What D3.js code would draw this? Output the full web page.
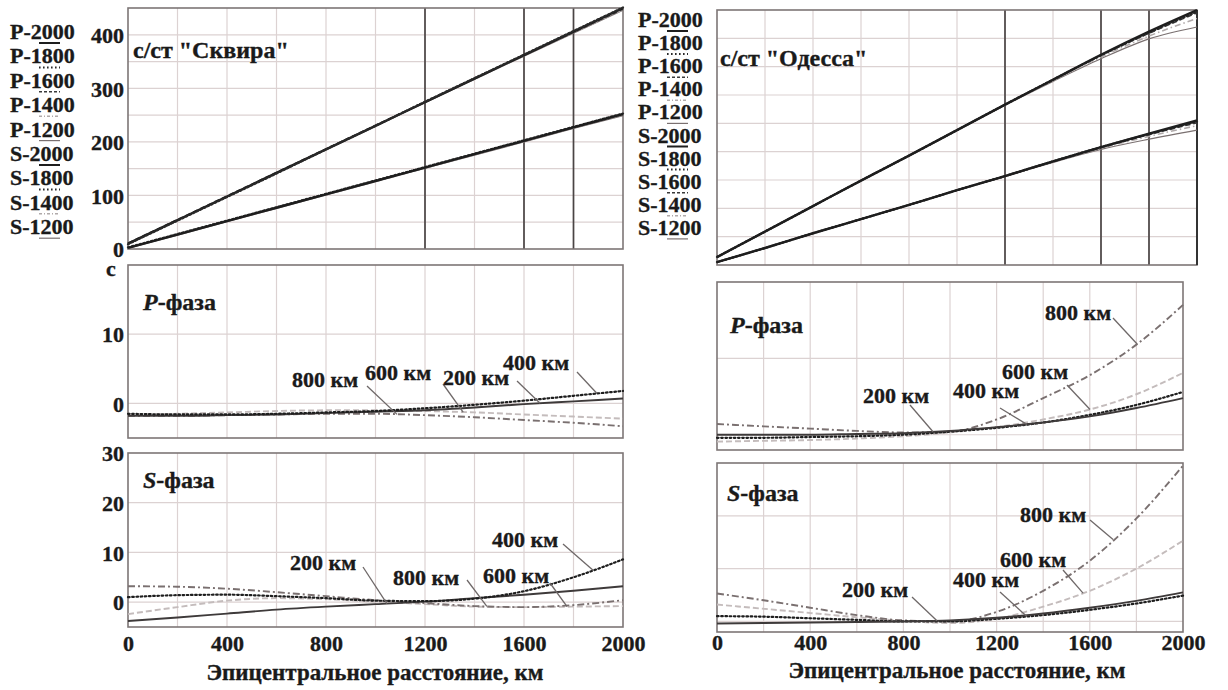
<!DOCTYPE html>
<html><head><meta charset="utf-8">
<script src="https://cdn.jsdelivr.net/npm/d3@7"></script>
<style>
html,body{margin:0;padding:0;background:#fff;}
svg text{font-family:"Liberation Serif","Times New Roman",serif;font-weight:bold;fill:#1a1a1a;stroke:#1a1a1a;stroke-width:0.35px;}
</style></head>
<body>
<svg id="c" width="1228" height="690"></svg>
<script>
// ---------- DATA ----------
const distances = [0, 200, 400, 600, 800, 1000, 1200, 1400, 1600, 1800, 2000];
const xTicks = [0, 400, 800, 1200, 1600, 2000];
const markedDistances = [1200, 1600, 1800];

// Skvira travel times (s)
const skviraP2000 = [10, 54, 98, 142, 186, 230, 274, 318, 362, 406, 450];
const skviraP1800 = [9, 53, 97, 141, 186, 230, 275, 319, 363, 407, 451];
const skviraP1600 = [11, 55, 99, 143, 187, 231, 275, 319, 362, 405, 448];
const skviraP1400 = [10, 54, 98, 142, 186, 230, 274, 317, 361, 404, 447];
const skviraP1200 = [10, 54, 98, 142, 186, 230, 273, 317, 360, 403, 446];
const skviraS2000 = [2, 27, 52, 77, 102, 127, 152, 177, 202, 227, 252];
const skviraS1800 = [3, 28, 53, 78, 103, 128, 153, 178, 203, 228, 253];
const skviraS1400 = [2, 27, 52, 77, 101, 126, 151, 176, 201, 226, 250];
const skviraS1200 = [1, 26, 51, 76, 101, 126, 151, 175, 200, 225, 249];

// Odessa travel times (s)
const odessaP2000 = [14, 59, 104, 149, 193, 238, 283, 327, 371, 412, 450];
const odessaP1800 = [14, 59, 104, 149, 193, 238, 283, 327, 370, 410, 447];
const odessaP1600 = [14, 59, 104, 149, 193, 238, 283, 327, 370, 409, 445];
const odessaP1400 = [14, 59, 104, 149, 193, 238, 282, 325, 367, 404, 435];
const odessaP1200 = [14, 59, 104, 149, 193, 238, 282, 324, 364, 399, 420];
const odessaS2000 = [5, 30, 56, 81, 106, 132, 157, 183, 208, 232, 255];
const odessaS1800 = [5, 30, 56, 81, 106, 132, 157, 183, 208, 231, 253];
const odessaS1600 = [5, 30, 56, 81, 106, 132, 157, 182, 207, 230, 251];
const odessaS1400 = [5, 30, 56, 81, 106, 132, 157, 182, 206, 227, 246];
const odessaS1200 = [5, 30, 56, 81, 106, 132, 156, 181, 204, 222, 238];

// Skvira residuals (s) by depth
const skviraPres200 = [-1.8, -1.8, -1.7, -1.6, -1.4, -1.2, -1.0, -0.6, -0.1, 0.3, 0.7];
const skviraPres400 = [-1.5, -1.6, -1.6, -1.5, -1.3, -1.1, -0.7, -0.2, 0.4, 1.1, 1.8];
const skviraPres600 = [-1.6, -1.5, -1.3, -1.1, -1.0, -1.0, -1.1, -1.3, -1.6, -1.9, -2.2];
const skviraPres800 = [-1.8, -1.8, -1.7, -1.6, -1.5, -1.5, -1.7, -2.0, -2.4, -2.8, -3.3];
const skviraSres200 = [-3.8, -3.1, -2.3, -1.5, -0.9, -0.4, 0.1, 0.8, 1.5, 2.3, 3.2];
const skviraSres400 = [1.0, 1.4, 1.5, 1.2, 0.8, 0.3, 0.2, 0.7, 2.2, 5.0, 8.6];
const skviraSres600 = [-2.4, -1.0, 0.3, 0.8, 0.6, 0.1, -0.4, -0.9, -1.0, -0.9, -0.8];
const skviraSres800 = [3.2, 3.1, 2.7, 2.0, 1.2, 0.4, -0.2, -0.8, -1.0, -0.6, 0.4];

// Odessa residuals (s) by depth
const odessaPres200 = [0.0, 0.0, 0.0, 0.1, 0.2, 0.5, 1.0, 1.6, 2.4, 3.5, 4.8];
const odessaPres400 = [-0.4, -0.4, -0.3, -0.2, 0.0, 0.4, 0.9, 1.6, 2.6, 3.9, 5.6];
const odessaPres600 = [-0.9, -0.8, -0.7, -0.5, -0.2, 0.3, 1.0, 2.0, 3.3, 5.3, 8.1];
const odessaPres800 = [1.4, 1.1, 0.8, 0.5, 0.3, 0.4, 2.0, 4.8, 7.8, 11.8, 17.0];
const odessaSres200 = [-0.4, -0.3, -0.2, -0.1, 0.0, 0.2, 0.7, 1.5, 2.6, 3.9, 5.5];
const odessaSres400 = [1.0, 0.9, 0.6, 0.3, 0.0, 0.0, 0.5, 1.2, 2.2, 3.4, 4.9];
const odessaSres600 = [3.2, 2.4, 1.6, 0.8, 0.1, -0.3, 0.5, 2.8, 5.8, 10.0, 15.3];
const odessaSres800 = [5.3, 4.0, 2.6, 1.2, 0.2, 0.0, 1.8, 5.8, 11.5, 19.5, 29.5];

const skviraLegend = ["P-2000", "P-1800", "P-1600", "P-1400", "P-1200", "S-2000", "S-1800", "S-1400", "S-1200"];
const odessaLegend = ["P-2000", "P-1800", "P-1600", "P-1400", "P-1200", "S-2000", "S-1800", "S-1600", "S-1400", "S-1200"];

// ---------- STYLES ----------
const baseStyle = {
  "2000": {stroke: "#1e1e1e", width: 2.4, dash: null},
  "1800": {stroke: "#2a2a2a", width: 2.2, dash: "1.6,2.4"},
  "1600": {stroke: "#3a3a3a", width: 1.6, dash: "5,3"},
  "1400": {stroke: "#b0aaaa", width: 1.6, dash: "6,3,1.5,3"},
  "1200": {stroke: "#7a7070", width: 1.2, dash: null}
};
const depthStyle = {
  "200": {stroke: "#3e3a3a", width: 1.9, dash: null},
  "400": {stroke: "#1e1e1e", width: 2.2, dash: "1.6,2.6"},
  "600": {stroke: "#c4bcbc", width: 1.9, dash: "6,3"},
  "800": {stroke: "#7a7070", width: 1.9, dash: "7,3,2,3"}
};

const svg = d3.select("#c");
const gridColor = "#dcd2d2";
const borderColor = "#7d7676";
const FONT = '"Liberation Serif","Times New Roman",serif';

function makePanel(cfg) {
  const x = d3.scaleLinear().domain([0, 2000]).range([cfg.x0, cfg.x1]);
  const y = d3.scaleLinear().domain(cfg.yDomain).range([cfg.y1, cfg.y0]);
  const g = svg.append("g");
  g.selectAll("line.vg").data(d3.range(200, 2000, 200)).join("line")
    .attr("x1", d => x(d)).attr("x2", d => x(d)).attr("y1", cfg.y0).attr("y2", cfg.y1)
    .attr("stroke", gridColor).attr("stroke-width", 1.2);
  g.selectAll("line.hg").data(cfg.yGrid).join("line")
    .attr("x1", cfg.x0).attr("x2", cfg.x1).attr("y1", d => y(d)).attr("y2", d => y(d))
    .attr("stroke", gridColor).attr("stroke-width", 1.2);
  if (cfg.marked) {
    g.selectAll("line.mk").data(markedDistances).join("line")
      .attr("x1", d => x(d)).attr("x2", d => x(d)).attr("y1", cfg.y0).attr("y2", cfg.y1)
      .attr("stroke", "#4a4545").attr("stroke-width", 1.7);
  }
  g.append("rect").attr("x", cfg.x0).attr("y", cfg.y0)
    .attr("width", cfg.x1 - cfg.x0).attr("height", cfg.y1 - cfg.y0)
    .attr("fill", "none").attr("stroke", borderColor).attr("stroke-width", 1.6);
  if (cfg.rightDark) {
    g.append("line").attr("x1", cfg.x1).attr("x2", cfg.x1).attr("y1", cfg.y0).attr("y2", cfg.y1)
      .attr("stroke", "#333").attr("stroke-width", 2);
  }
  if (cfg.yTicks) {
    const ax = d3.axisLeft(y).tickValues(cfg.yTicks).tickSize(0).tickPadding(0);
    const ag = g.append("g").attr("transform", `translate(${cfg.x0 - 4},0)`).call(ax);
    ag.attr("font-size", null).attr("font-family", null);
    ag.select(".domain").remove();
    ag.selectAll("text").attr("font-size", 22).attr("dy", "0.35em")
      .style("font-family", FONT).style("font-weight", "bold").attr("fill", "#1a1a1a");
  }
  if (cfg.xTicksOn) {
    const ax = d3.axisBottom(x).tickValues(xTicks).tickSize(0).tickPadding(0).tickFormat(d3.format("d"));
    const ag = g.append("g").attr("transform", `translate(0,${cfg.xLabelY})`).call(ax);
    ag.attr("font-size", null).attr("font-family", null);
    ag.select(".domain").remove();
    ag.selectAll("text").attr("font-size", 22).attr("dy", "0.35em")
      .style("font-family", FONT).style("font-weight", "bold").attr("fill", "#1a1a1a");
  }
  const line = d3.line().x((d, i) => x(distances[i])).y(d => y(d)).curve(d3.curveMonotoneX);
  cfg.series.forEach(s => {
    g.append("path").attr("d", line(s.values)).attr("fill", "none")
      .attr("stroke", s.style.stroke).attr("stroke-width", s.style.width)
      .attr("stroke-dasharray", s.style.dash).attr("stroke-linecap", s.style.dash && s.style.dash.startsWith("1.6") ? "round" : "butt");
  });
  (cfg.notes || []).forEach(n => {
    const vals = n.values;
    const i = Math.min(9, Math.floor(n.km / 200));
    const t = (n.km - distances[i]) / 200;
    const v = vals[i] + (vals[i + 1] - vals[i]) * t;
    g.append("line").attr("x1", n.sx).attr("y1", n.sy).attr("x2", x(n.km)).attr("y2", y(v))
      .attr("stroke", "#6e6868").attr("stroke-width", 1.3);
    g.append("text").attr("x", n.tx).attr("y", n.ty).attr("font-size", 22).text(n.text);
  });
  return {x, y, g};
}

function legend(labels, x0, yBase, step) {
  labels.forEach((lab, i) => {
    const depth = lab.slice(2);
    const st = baseStyle[depth];
    const yb = yBase + i * step;
    svg.append("text").attr("x", x0).attr("y", yb).attr("font-size", 22).text(lab);
    svg.append("line").attr("x1", x0 + 29).attr("x2", x0 + 50).attr("y1", yb + 4).attr("y2", yb + 4)
      .attr("stroke", st.stroke).attr("stroke-width", Math.min(st.width, 2))
      .attr("stroke-dasharray", st.dash ? st.dash.replace("6,3,1.5,3", "3,2,1,2").replace("5,3", "3,2") : null);
  });
}

function phaseTitle(x, y, letter) {
  svg.append("text").attr("x", x).attr("y", y).attr("font-size", 24)
    .call(t => { t.append("tspan").attr("font-style", "italic").text(letter); t.append("tspan").text("-фаза"); });
}

// ---------- TOP PANELS ----------
makePanel({x0: 128, x1: 623, y0: 8, y1: 249, yDomain: [0, 450], yGrid: d3.range(50, 450, 50),
  yTicks: [0, 100, 200, 300, 400], marked: true,
  series: [
    {values: skviraS1200, style: baseStyle["1200"]},
    {values: skviraS1400, style: baseStyle["1400"]},
    {values: skviraS1800, style: baseStyle["1800"]},
    {values: skviraS2000, style: baseStyle["2000"]},
    {values: skviraP1200, style: baseStyle["1200"]},
    {values: skviraP1400, style: baseStyle["1400"]},
    {values: skviraP1600, style: baseStyle["1600"]},
    {values: skviraP2000, style: baseStyle["2000"]},
    {values: skviraP1800, style: baseStyle["1800"]}
  ]});
svg.append("text").attr("x", 133).attr("y", 58).attr("font-size", 24).text('с/ст "Сквира"');
legend(skviraLegend, 10, 39, 24.4);

makePanel({x0: 717, x1: 1197, y0: 10, y1: 265, yDomain: [0, 450], yGrid: d3.range(50, 450, 50),
  marked: true, rightDark: true,
  series: [
    {values: odessaS1200, style: baseStyle["1200"]},
    {values: odessaS1400, style: baseStyle["1400"]},
    {values: odessaS1600, style: baseStyle["1600"]},
    {values: odessaS1800, style: baseStyle["1800"]},
    {values: odessaS2000, style: baseStyle["2000"]},
    {values: odessaP1200, style: baseStyle["1200"]},
    {values: odessaP1400, style: baseStyle["1400"]},
    {values: odessaP1600, style: baseStyle["1600"]},
    {values: odessaP1800, style: baseStyle["1800"]},
    {values: odessaP2000, style: baseStyle["2000"]}
  ]});
svg.append("text").attr("x", 720).attr("y", 66).attr("font-size", 24).text('с/ст "Одесса"');
legend(odessaLegend, 638, 27, 23.1);

// ---------- RESIDUAL PANELS ----------
makePanel({x0: 128, x1: 623, y0: 265, y1: 438, yDomain: [-5, 20], yGrid: [0, 10],
  yTicks: [0, 10],
  series: [
    {values: skviraPres600, style: depthStyle["600"]},
    {values: skviraPres800, style: depthStyle["800"]},
    {values: skviraPres200, style: depthStyle["200"]},
    {values: skviraPres400, style: depthStyle["400"]}
  ],
  notes: [
    {text: "800 км", tx: 292, ty: 387, sx: 367, sy: 386, km: 1087, values: skviraPres800},
    {text: "600 км", tx: 365, ty: 380, sx: 443, sy: 384, km: 1354, values: skviraPres600},
    {text: "200 км", tx: 443, ty: 385, sx: 517, sy: 381, km: 1665, values: skviraPres200},
    {text: "400 км", tx: 503, ty: 370, sx: 577, sy: 372, km: 1895, values: skviraPres400}
  ]});
svg.append("text").attr("x", 106).attr("y", 276).attr("font-size", 22).text("с");
phaseTitle(143, 310, "P");

makePanel({x0: 128, x1: 623, y0: 453, y1: 627, yDomain: [-5, 30], yGrid: [0, 10, 20],
  yTicks: [0, 10, 20, 30], xTicksOn: true, xLabelY: 643,
  series: [
    {values: skviraSres600, style: depthStyle["600"]},
    {values: skviraSres800, style: depthStyle["800"]},
    {values: skviraSres200, style: depthStyle["200"]},
    {values: skviraSres400, style: depthStyle["400"]}
  ],
  notes: [
    {text: "200 км", tx: 290, ty: 570, sx: 363, sy: 567, km: 1046, values: skviraSres200},
    {text: "800 км", tx: 393, ty: 585, sx: 467, sy: 580, km: 1450, values: skviraSres800},
    {text: "600 км", tx: 483, ty: 583, sx: 550, sy: 583, km: 1774, values: skviraSres600},
    {text: "400 км", tx: 492, ty: 547, sx: 563, sy: 544, km: 1879, values: skviraSres400}
  ]});
phaseTitle(143, 488, "S");

makePanel({x0: 717, x1: 1183, y0: 282, y1: 450, yDomain: [-2, 20], yGrid: [0, 10],
  series: [
    {values: odessaPres600, style: depthStyle["600"]},
    {values: odessaPres800, style: depthStyle["800"]},
    {values: odessaPres400, style: depthStyle["400"]},
    {values: odessaPres200, style: depthStyle["200"]}
  ],
  notes: [
    {text: "800 км", tx: 1045, ty: 320, sx: 1113, sy: 318, km: 1803, values: odessaPres800},
    {text: "600 км", tx: 1002, ty: 379, sx: 1067, sy: 385, km: 1601, values: odessaPres600},
    {text: "400 км", tx: 953, ty: 398, sx: 1000, sy: 408, km: 1330, values: odessaPres400},
    {text: "200 км", tx: 863, ty: 403, sx: 910, sy: 405, km: 927, values: odessaPres200}
  ]});
phaseTitle(730, 333, "P");

makePanel({x0: 717, x1: 1183, y0: 463, y1: 632, yDomain: [-2, 30], yGrid: [0, 10, 20],
  xTicksOn: true, xLabelY: 642,
  series: [
    {values: odessaSres600, style: depthStyle["600"]},
    {values: odessaSres800, style: depthStyle["800"]},
    {values: odessaSres400, style: depthStyle["400"]},
    {values: odessaSres200, style: depthStyle["200"]}
  ],
  notes: [
    {text: "800 км", tx: 1020, ty: 522, sx: 1090, sy: 520, km: 1700, values: odessaSres800},
    {text: "600 км", tx: 1000, ty: 567, sx: 1063, sy: 570, km: 1571, values: odessaSres600},
    {text: "400 км", tx: 953, ty: 587, sx: 1000, sy: 592, km: 1330, values: odessaSres400},
    {text: "200 км", tx: 842, ty: 597, sx: 912, sy: 597, km: 944, values: odessaSres200}
  ]});
phaseTitle(727, 501, "S");

// axis titles
svg.append("text").attr("x", 375).attr("y", 680).attr("text-anchor", "middle").attr("font-size", 23)
  .text("Эпицентральное расстояние, км");
svg.append("text").attr("x", 957).attr("y", 678).attr("text-anchor", "middle").attr("font-size", 23)
  .text("Эпицентральное расстояние, км");
</script>
</body></html>
